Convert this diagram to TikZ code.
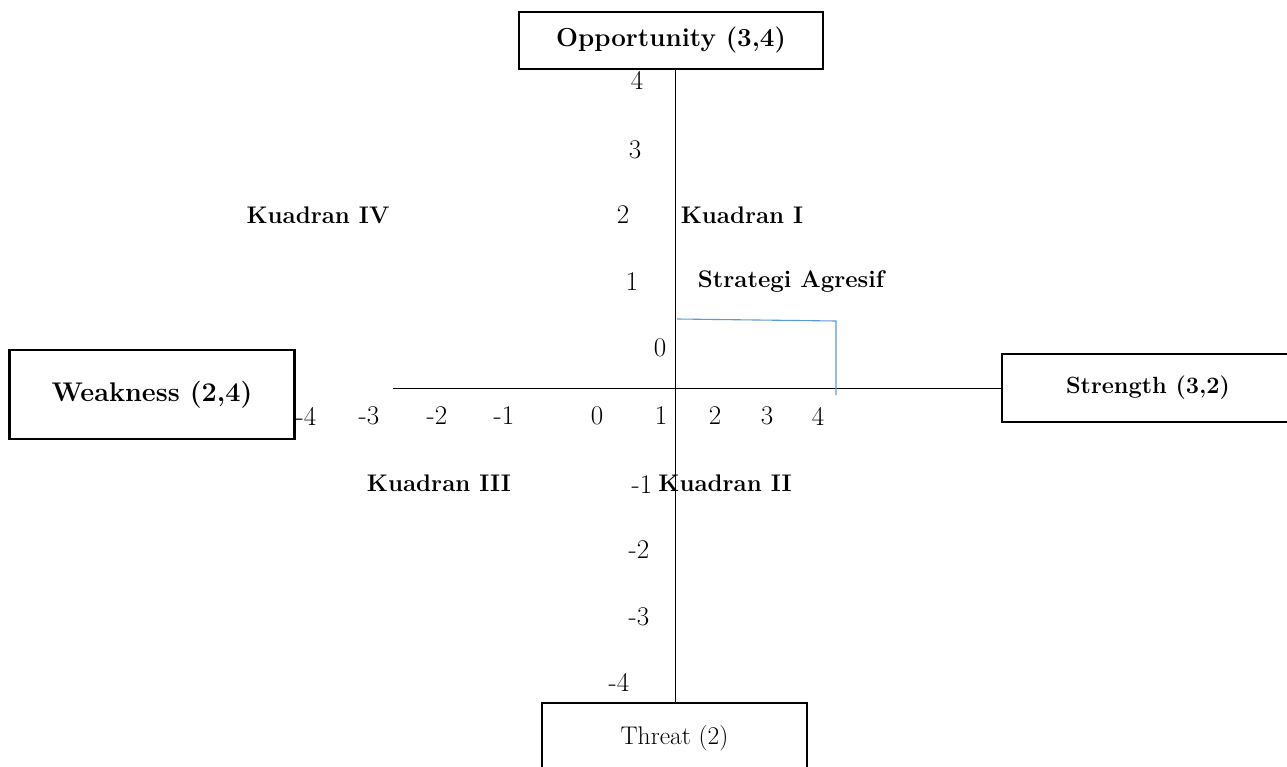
\documentclass[tikz,border=0pt]{standalone}
\usepackage{tikz}
\usetikzlibrary{positioning}
\definecolor{lineblue}{RGB}{91,155,213}
\begin{document}
\begin{tikzpicture}[x=1pt, y=-1pt,
  box/.style={draw=black, line width=2.3pt, inner sep=0pt, font=\fontsize{26}{30}\selectfont\bfseries},
  tick/.style={inner sep=0pt, font=\fontsize{27}{32}\selectfont},
  lbl/.style={inner sep=0pt, font=\fontsize{24}{28}\selectfont\bfseries},
  axis/.style={line width=0.9pt}
]
  \useasboundingbox (0,0) rectangle (1287,767);
  % boxes at the axis ends
  \node[box, minimum width=304pt, minimum height=57pt] (opp) at (671,40.5) {Opportunity (3,4)};
  \node[box, minimum width=285pt, minimum height=89pt, font=\fontsize{27}{32}\selectfont\bfseries] (weak) at (152,394.5) {Weakness (2,4)};
  \node[box, minimum width=292pt, minimum height=68pt, font=\fontsize{23.5}{28}\selectfont\bfseries] (str) at (1148,388) {Strength (3,2)};
  \node[box, minimum width=265pt, minimum height=70pt, font=\fontsize{25.5}{30}\selectfont] (thr) at (674.5,738) {Threat (2)};
  % axes
  \coordinate (o) at (675,388);
  \coordinate (xl) at (393,388);
  \draw[axis] (o |- opp.south) -- (o |- thr.north);
  \draw[axis] (xl) -- (str.west);
  % blue marker
  \coordinate (b1) at (677,319);
  \coordinate (b2) at (836,321);
  \coordinate (b3) at (836,395);
  \draw[lineblue, line width=1.1pt] (b1) -- (b2) -- (b3);
  % vertical ticks
  \foreach \v/\x/\y [count=\i] in {4/637/80, 3/635/150, 2/623/215, 1/632/282, 0/660/348,
      -1/642/485, -2/639/550, -3/639/617, -4/619/682}
    \node[tick] (ty\i) at (\x,\y) {\v};
  % horizontal ticks
  \foreach \v/\x [count=\i] in {-4/306, -3/369, -2/437, -1/504, 0/597, 1/661, 2/715, 3/767, 4/818}
    \node[tick] (tx\i) at (\x,416) {\v};
  % quadrant labels
  \node[lbl] (q4) at (318,215) {Kuadran IV};
  \node[lbl] (q1) at (742,215) {Kuadran I};
  \node[lbl] (sa) at (791,282) {Strategi Agresif};
  \node[lbl] (q3) at (439,483) {Kuadran III};
  \node[lbl] (q2) at (725,483) {Kuadran II};
\end{tikzpicture}
\end{document}
